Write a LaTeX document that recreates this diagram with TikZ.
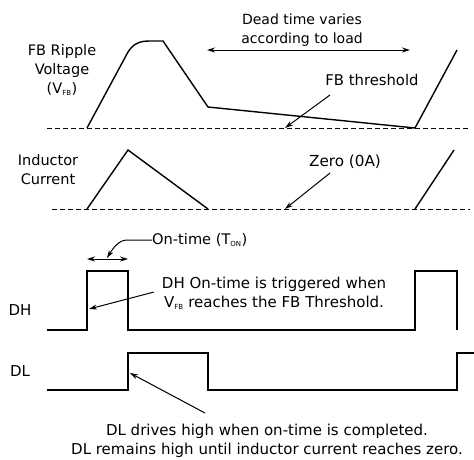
\documentclass[tikz,border=0pt]{standalone}
\usepackage{fontspec}
\setmainfont{DejaVu Sans}
\usetikzlibrary{arrows.meta}
\newcommand{\fsz}[1]{\fontsize{#1}{19}\selectfont}
\begin{document}
\begin{tikzpicture}[x=1pt,y=-1pt,
  wave/.style={line width=1.4pt,line join=miter},
  base/.style={line width=1pt,dash pattern=on 5pt off 3pt},
  lbl/.style={align=center,inner sep=0pt},
  callout/.style={line width=1pt,-{Stealth[length=8pt,width=5pt]}},
  dbl/.style={line width=1pt,{Stealth[length=8pt,width=5pt]}-{Stealth[length=8pt,width=5pt]}}]
\useasboundingbox (0,0) rectangle (474,459);
% labels
\node[lbl,font=\fsz{14.5}] (fbl) at (62,70) {FB Ripple\\Voltage\\(V\textsubscript{\scriptsize FB})};
\node[lbl,font=\fsz{14.5}] (icl) at (48,170) {Inductor\\Current};
\node[lbl,font=\fsz{15}] (dhl) at (20,310) {DH};
\node[lbl,font=\fsz{15}] (dll) at (20,371) {DL};
\node[lbl,font=\fsz{14}] (dead) at (302,30) {Dead time varies\\according to load};
\node[lbl,font=\fsz{14.8}] (fbt) at (372,80) {FB threshold};
\node[lbl,font=\fsz{15.2}] (zero) at (345,162) {Zero (0A)};
\node[lbl,font=\fsz{14.6},anchor=west] (ont) at (152,240) {On-time (T\textsubscript{\scriptsize ON})};
\node[lbl,font=\fsz{15}] (dht) at (274,293) {DH On-time is triggered when\\V\textsubscript{\scriptsize FB} reaches the FB Threshold.};
\node[lbl,font=\fsz{15}] (dlt) at (267,441) {DL drives high when on-time is completed.\\DL remains high until inductor current reaches zero.};
% baselines
\coordinate (fb0) at (47,128); \coordinate (fb1) at (470,128);
\coordinate (ic0) at (52,209); \coordinate (ic1) at (470,209);
\draw[base] (fb0) -- (fb1);
\draw[base] (ic0) -- (ic1);
% FB ripple
\draw[wave] (87,128) -- (128,52) .. controls (134,43) and (140,41) .. (150,41) -- (163,41) -- (208,107) -- (415,128) -- (457,50);
% inductor current
\draw[wave] (87,209) -- (128,150) -- (208,209);
\draw[wave] (415,209) -- (454,150);
% DH
\draw[wave] (47,330) -- (87,330) -- (87,271) -- (128,271) -- (128,330) -- (415,330) -- (415,271) -- (457,271) -- (457,330);
% DL
\draw[wave] (47,390) -- (128,390) -- (128,353) -- (208,353) -- (208,390) -- (457,390) -- (457,353) -- (474,353);
% arrows
\coordinate (dA) at (207,50); \coordinate (dB) at (410,50);
\draw[dbl] (dA) -- (dB);
\coordinate (oA) at (87,259); \coordinate (oB) at (128,259);
\draw[dbl] (oA) -- (oB);
\coordinate (fbtip) at (285,128);
\draw[callout] (330,95) -- (fbtip);
\coordinate (zerotip) at (285,209);
\draw[callout] (330,173) -- (zerotip);
\coordinate (ontip) at (107,258);
\draw[callout] (ont.west) -- (127,240) .. controls (118,240) and (112,250) .. (ontip);
\coordinate (dhtip) at (89,309);
\draw[callout] (154,292) -- (dhtip);
\coordinate (dltip) at (130,373);
\draw[callout] (205,413) -- (dltip);
\end{tikzpicture}
\end{document}
